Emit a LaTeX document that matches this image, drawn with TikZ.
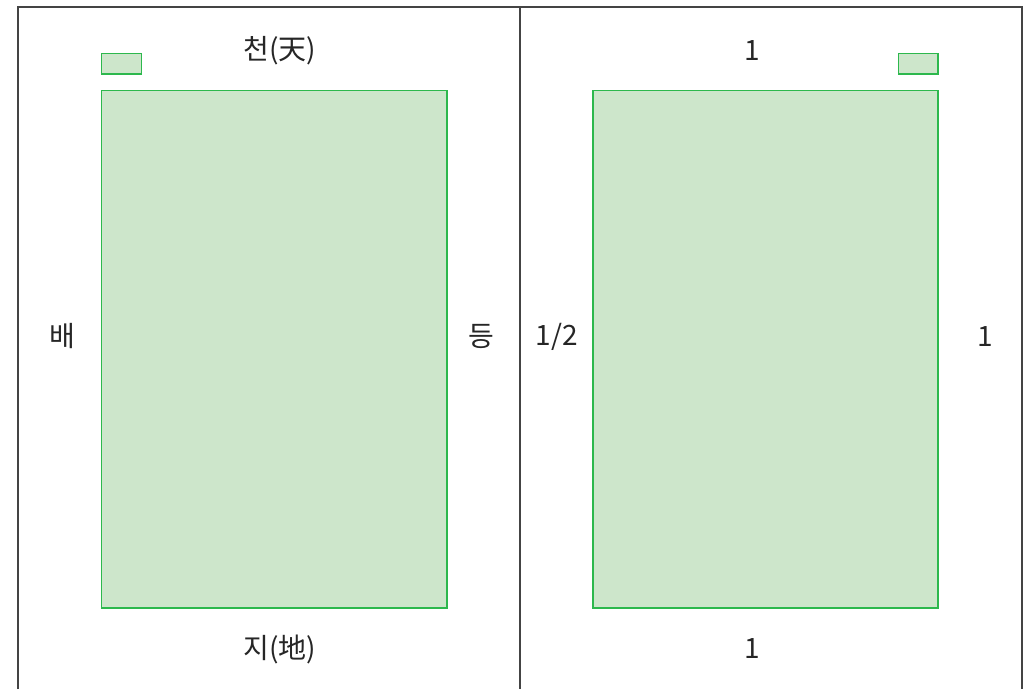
\documentclass[tikz,border=0pt]{standalone}
\usepackage{fontspec}
\newfontfamily\kr{Noto Sans CJK KR}
\definecolor{pagegray}{HTML}{444444}
\definecolor{boxgreen}{HTML}{2DB84D}
\definecolor{boxfill}{HTML}{CDE6CB}
\begin{document}
\begin{tikzpicture}[x=1pt,y=-1pt,
  pageline/.style={draw=pagegray,line width=1.8pt},
  area/.style={draw=boxgreen,fill=boxfill,line width=1.2pt},
  lbl/.style={font=\kr\fontsize{28}{30}\selectfont,text=black!85,inner sep=0pt,anchor=center}]
\useasboundingbox (0,0) rectangle (1031,689);
\fill[white] (0,0) rectangle (1031,689);
% pages
\draw[pageline] (18,689) -- (18,7) -- (1022,7) -- (1022,689);
\draw[pageline] (520,7) -- (520,689);
% left page
\draw[area] (101.5,53.5) rectangle (141.5,74) coordinate (ls);
\draw[area] (101.5,90.5) rectangle (447,608) coordinate (lb);
% right page
\draw[area] (898.5,53.5) rectangle (938,74) coordinate (rs);
\draw[area] (593,90.5) rectangle (938,608) coordinate (rb);
% labels
\node[lbl] (top) at (280,51) {천(天)};
\node[lbl] (bot) at (280,649) {지(地)};
\node[lbl] (bae) at (62,336) {배};
\node[lbl] (deung) at (481,336) {등};
\node[lbl] (half) at (557,337) {1/2};
\node[lbl] (rtop) at (752,51) {1};
\node[lbl] (rright) at (985,337) {1};
\node[lbl] (rbot) at (752,649) {1};
\end{tikzpicture}
\end{document}
